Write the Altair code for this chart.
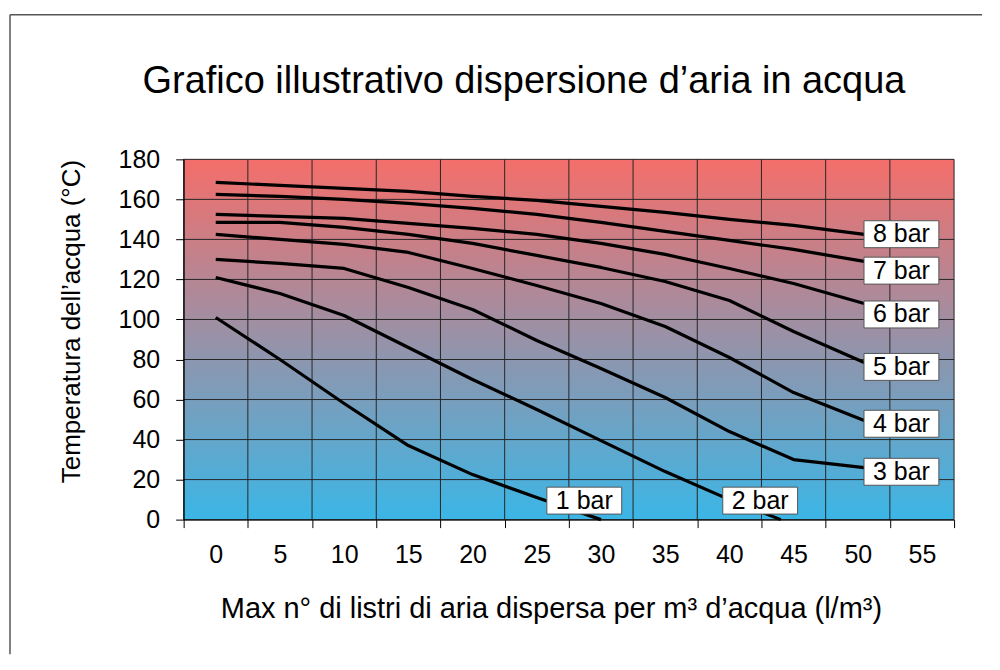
import altair as alt
import pandas as pd

FONT = "Liberation Sans"

# ---- data ----
x_main = [0, 5, 10, 15, 20, 25, 30, 35, 40, 45, 50.5]
t_8bar = [168.5, 167, 165.5, 164, 161.5, 159.5, 156.5, 153.5, 150, 147, 142.5]
t_7bar = [162.5, 161.5, 160, 158, 155.5, 152.5, 148.5, 144, 139.5, 135, 129]
t_6bar = [152.5, 151.5, 150.5, 148, 145.5, 142.5, 138, 132.5, 125.5, 118, 108]
t_5bar = [148.5, 148.5, 146, 142.5, 138, 132, 126, 119, 109.5, 94, 78.5]
t_4bar = [142.5, 140, 137.5, 133.5, 125.5, 117, 108, 96.5, 81, 63.5, 49.5]
t_3bar = [130, 128, 125.5, 116, 105, 89.5, 75.5, 61, 44, 30, 26]
x_2bar = [0, 5, 10, 15, 20, 25, 30, 35, 40, 44]
t_2bar = [121, 113, 102, 86, 70, 55, 39.5, 24, 10, 0]
x_1bar = [0, 5, 10, 15, 20, 25, 30]
t_1bar = [101, 80, 58, 37, 22.5, 11, 0]

label_text = ["8 bar", "7 bar", "6 bar", "5 bar", "4 bar", "3 bar", "2 bar", "1 bar"]
label_x = [53.4, 53.4, 53.4, 53.4, 53.4, 53.4, 42.4, 28.7]
label_y = [142.6, 124.4, 102.5, 76.3, 47.9, 23.9, 9.5, 9.5]

x_ticks = [0, 5, 10, 15, 20, 25, 30, 35, 40, 45, 50, 55]
y_ticks = [0, 20, 40, 60, 80, 100, 120, 140, 160, 180]

title_text = "Grafico illustrativo dispersione d\u2019aria in acqua"
x_title = "Max n\u00b0 di listri di aria dispersa per m\u00b3 d\u2019acqua (l/m\u00b3)"
y_title = "Temperatura dell\u2019acqua (\u00b0C)"

# ---- tables ----
rows = []
series = [("8 bar", x_main, t_8bar), ("7 bar", x_main, t_7bar), ("6 bar", x_main, t_6bar),
          ("5 bar", x_main, t_5bar), ("4 bar", x_main, t_4bar), ("3 bar", x_main, t_3bar),
          ("2 bar", x_2bar, t_2bar), ("1 bar", x_1bar, t_1bar)]
for name, xs, ts in series:
    for xv, tv in zip(xs, ts):
        rows.append({"serie": name, "x": xv, "t": tv})
df_lines = pd.DataFrame(rows)

df_lab = pd.DataFrame({"lab": label_text, "lx": label_x, "ly": label_y})
half = (x_ticks[1] - x_ticks[0]) / 2
bounds = [v - half for v in x_ticks] + [x_ticks[-1] + half]
df_vgrid = pd.DataFrame({"xb": bounds})
df_hgrid = pd.DataFrame({"yb": y_ticks})
df_bg = pd.DataFrame({"x0": [bounds[0]], "x1": [bounds[-1]], "y0": [y_ticks[0]], "y1": [y_ticks[-1]]})
df_title = pd.DataFrame({"txt": [title_text]})
df_one = pd.DataFrame({"a": [0]})

W, H = 772, 361
band_px = W / len(x_ticks)

xscale = alt.Scale(domain=[bounds[0], bounds[-1]], nice=False, zero=False)
yscale = alt.Scale(domain=[y_ticks[0], y_ticks[-1]], nice=False, zero=False)

xaxis = alt.Axis(
    values=bounds, grid=False, tickSize=8, tickColor="black", domainColor="black",
    labelExpr=f"datum.value > {x_ticks[-1]} ? '' : format(datum.value + {half}, 'd')",
    labelOffset=band_px / 2, labelFlush=False, labelOverlap=False, labelBound=False,
    labelFont=FONT, labelFontSize=25, labelColor="black", labelPadding=15,
    title=x_title, titleFont=FONT, titleFontSize=29, titleFontWeight="normal",
    titleColor="black", titlePadding=27, titleX=368, titleAlign="center", zindex=1,
)
yaxis = alt.Axis(
    values=y_ticks, grid=False, tickSize=8, tickColor="black", domainColor="black",
    labelFont=FONT, labelFontSize=25, labelColor="black", labelPadding=16,
    title=y_title, titleFont=FONT, titleFontSize=26, titleFontWeight="normal",
    titleColor="black", titlePadding=34, titleY=162, titleAlign="center", zindex=1,
)

grad = alt.LinearGradient(
    gradient="linear",
    stops=[alt.GradientStop(color="#F46E6A", offset=0),
           alt.GradientStop(color="#3BB6E6", offset=1)],
    x1=0, x2=0, y1=0, y2=1,
)

bg = alt.Chart(df_bg).mark_rect(color=grad).encode(
    x=alt.X("x0:Q", scale=xscale, axis=xaxis),
    x2="x1",
    y=alt.Y("y0:Q", scale=yscale, axis=yaxis),
    y2="y1",
)

vgrid = alt.Chart(df_vgrid).mark_rule(color="#262626", strokeWidth=1).encode(
    x=alt.X("xb:Q", scale=xscale, axis=xaxis)
)
hgrid = alt.Chart(df_hgrid).mark_rule(color="#262626", strokeWidth=1).encode(
    y=alt.Y("yb:Q", scale=yscale, axis=yaxis)
)

lines = alt.Chart(df_lines).mark_line(color="black", strokeWidth=3.2, strokeJoin="round").encode(
    x=alt.X("x:Q", scale=xscale, axis=xaxis),
    y=alt.Y("t:Q", scale=yscale, axis=yaxis),
    detail="serie:N",
    order="x:Q",
)

boxes = alt.Chart(df_lab).mark_rect(width=75, height=27, fill="white", stroke="#555555", strokeWidth=1).encode(
    x=alt.X("lx:Q", scale=xscale, axis=xaxis),
    y=alt.Y("ly:Q", scale=yscale, axis=yaxis),
)
texts = alt.Chart(df_lab).mark_text(font=FONT, fontSize=25, color="black", baseline="middle", align="center").encode(
    x=alt.X("lx:Q", scale=xscale, axis=xaxis),
    y=alt.Y("ly:Q", scale=yscale, axis=yaxis),
    text="lab:N",
)

title_mark = alt.Chart(df_title).mark_text(font=FONT, fontSize=38, color="black",
                                           baseline="alphabetic", align="center").encode(
    x=alt.value(341), y=alt.value(-66), text="txt:N"
)

frame_top = alt.Chart(df_one).mark_rule(color="#555555", strokeWidth=1.5).encode(
    x=alt.value(-174), x2=alt.value(800), y=alt.value(-145)
)
frame_left = alt.Chart(df_one).mark_rule(color="#555555", strokeWidth=1.5).encode(
    x=alt.value(-174), y=alt.value(-145), y2=alt.value(496)
)

chart = alt.layer(bg, hgrid, vgrid, lines, boxes, texts, title_mark, frame_top, frame_left).properties(
    width=W, height=H,
    padding={"left": 1, "top": 5, "right": 5, "bottom": 5},
).configure_view(stroke=None)

chart.save("out.html", embed_options={"renderer": "svg", "actions": False})
